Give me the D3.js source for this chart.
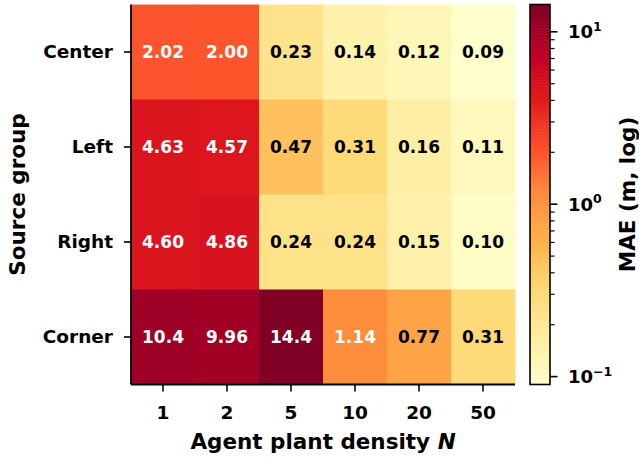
<!DOCTYPE html>
<html>
<head>
<meta charset="utf-8">
<script src="https://cdn.jsdelivr.net/npm/d3@7"></script>
<style>
  html, body { margin: 0; padding: 0; background: #fff; }
  svg text { font-family: "DejaVu Sans", sans-serif; font-weight: bold; }
</style>
</head>
<body>
<svg id="chart" width="639" height="458"></svg>
<script>
// Mean absolute error by source group (rows) and agent plant density (columns)
const densities = ["1", "2", "5", "10", "20", "50"];
const groups = ["Center", "Left", "Right", "Corner"];
const maeCenter = [2.02, 2.00, 0.23, 0.14, 0.12, 0.09];
const maeLeft   = [4.63, 4.57, 0.47, 0.31, 0.16, 0.11];
const maeRight  = [4.60, 4.86, 0.24, 0.24, 0.15, 0.10];
const maeCorner = [10.4, 9.96, 14.4, 1.14, 0.77, 0.31];
const rows = [maeCenter, maeLeft, maeRight, maeCorner];
const cbarTicks = [0.1, 1, 10];
const cbarMinor = [0.2,0.3,0.4,0.5,0.6,0.7,0.8,0.9,2,3,4,5,6,7,8,9];

const svg = d3.select("#chart");
const plot = { left: 131, top: 4.5, width: 384, height: 380 };
const cbar = { left: 530, width: 20 };

const cells = [];
rows.forEach((vals, r) => vals.forEach((v, c) => cells.push({ g: groups[r], n: densities[c], v })));

const all = cells.map(d => d.v);
const vmin = d3.min(all), vmax = d3.max(all);

// YlOrRd, linear in RGB between the nine ColorBrewer anchors
const ylorrd = ["#ffffcc","#ffeda0","#fed976","#feb24c","#fd8d3c","#fc4e2a","#e31a1c","#bd0026","#800026"];
const cmap = d3.scaleLinear()
  .domain(d3.range(9).map(i => i / 8))
  .range(ylorrd)
  .interpolate(d3.interpolateRgb)
  .clamp(true);
const norm = d3.scaleLog().domain([vmin, vmax]).range([0, 1]).clamp(true);
const color = v => cmap(norm(v));

const x = d3.scaleBand().domain(densities).range([plot.left, plot.left + plot.width]).padding(0);
const y = d3.scaleBand().domain(groups).range([plot.top, plot.top + plot.height]).padding(0);

// heatmap cells
svg.append("g").selectAll("rect").data(cells).join("rect")
  .attr("x", d => x(d.n))
  .attr("y", d => y(d.g))
  .attr("width", x.bandwidth() + 0.5)
  .attr("height", y.bandwidth() + 0.5)
  .attr("fill", d => color(d.v));

// value annotations
const fmt = v => v >= 10 ? v.toFixed(1) : v.toFixed(2);
svg.append("g").selectAll("text").data(cells).join("text")
  .attr("x", d => x(d.n) + x.bandwidth() / 2)
  .attr("y", d => y(d.g) + y.bandwidth() / 2)
  .attr("text-anchor", "middle")
  .attr("dy", "0.36em")
  .attr("font-size", 17)
  .attr("fill", d => norm(d.v) > 0.45 ? "#fff" : "#000")
  .text(d => fmt(d.v));

// axes
const xAxis = svg.append("g")
  .attr("transform", `translate(0,${plot.top + plot.height})`)
  .call(d3.axisBottom(x).tickSize(7).tickPadding(14));
const yAxis = svg.append("g")
  .attr("transform", `translate(${plot.left},0)`)
  .call(d3.axisLeft(y).tickSize(7).tickPadding(11));
[xAxis, yAxis].forEach(a => {
  a.selectAll(".domain").attr("stroke", "#000").attr("stroke-width", 1.8)
    .attr("d", a === xAxis ? `M${plot.left},0H${plot.left + plot.width}` : `M0,${plot.top}V${plot.top + plot.height}`);
  a.selectAll(".tick line").attr("stroke", "#000").attr("stroke-width", 1.6);
  a.selectAll(".tick text").attr("font-size", 18.5).attr("fill", "#000")
    .style("font-family", "DejaVu Sans").style("font-weight", "bold");
});

// axis titles
const xt = svg.append("text")
  .attr("x", plot.left + plot.width / 2)
  .attr("y", 449)
  .attr("text-anchor", "middle")
  .attr("font-size", 21.5);
xt.append("tspan").text("Agent plant density ");
xt.append("tspan").attr("font-style", "italic").text("N");

svg.append("text")
  .attr("transform", `translate(25,${plot.top + plot.height / 2}) rotate(-90)`)
  .attr("text-anchor", "middle")
  .attr("font-size", 21.5)
  .text("Source group");

// colorbar
const cy = d3.scaleLog().domain([vmin, vmax]).range([plot.top + plot.height, plot.top]);
const nSteps = 256;
const cb = svg.append("g");
cb.selectAll("rect.step").data(d3.range(nSteps)).join("rect")
  .attr("class", "step")
  .attr("x", cbar.left)
  .attr("width", cbar.width)
  .attr("y", i => plot.top + plot.height - (i + 1) * plot.height / nSteps)
  .attr("height", plot.height / nSteps + 0.6)
  .attr("fill", i => cmap((i + 0.5) / nSteps));
cb.append("rect")
  .attr("x", cbar.left).attr("y", plot.top)
  .attr("width", cbar.width).attr("height", plot.height)
  .attr("fill", "none").attr("stroke", "#000").attr("stroke-width", 1.6);

const right = cbar.left + cbar.width;
cb.selectAll("line.minor").data(cbarMinor.filter(v => v >= vmin && v <= vmax)).join("line")
  .attr("class", "minor")
  .attr("x1", right).attr("x2", right + 4.5)
  .attr("y1", d => cy(d)).attr("y2", d => cy(d))
  .attr("stroke", "#000").attr("stroke-width", 1.2);
cb.selectAll("line.major").data(cbarTicks).join("line")
  .attr("class", "major")
  .attr("x1", right).attr("x2", right + 7.5)
  .attr("y1", d => cy(d)).attr("y2", d => cy(d))
  .attr("stroke", "#000").attr("stroke-width", 1.6);
const lbl = cb.selectAll("text.cbl").data(cbarTicks).join("text")
  .attr("class", "cbl")
  .attr("x", right + 18)
  .attr("y", d => cy(d))
  .attr("dy", "0.36em")
  .attr("font-size", 18);
lbl.append("tspan").text("10");
lbl.append("tspan").attr("font-size", 12.5).attr("dy", "-0.6em")
  .text(d => d3.format("d")(Math.round(Math.log10(d))).replace("-", "\u2212"));

svg.append("text")
  .attr("transform", `translate(635,${plot.top + plot.height / 2}) rotate(-90)`)
  .attr("text-anchor", "middle")
  .attr("font-size", 21.5)
  .text("MAE (m, log)");
</script>
</body>
</html>
